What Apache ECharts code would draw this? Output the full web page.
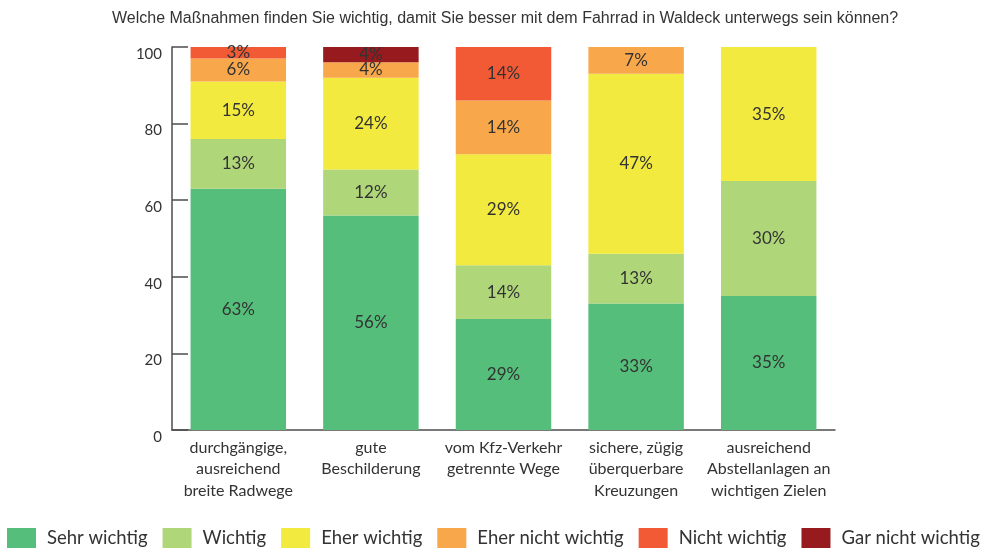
<!DOCTYPE html>
<html>
<head>
<meta charset="utf-8">
<script src="https://cdn.jsdelivr.net/npm/echarts@6/dist/echarts.min.js"></script>
<style>
  html, body { margin: 0; padding: 0; background: #fff; }
  #chart { width: 981px; height: 548px; }
</style>
</head>
<body>
<div id="chart"></div>
<script>
  const categories = [
    'durchgängige,\nausreichend\nbreite Radwege',
    'gute\nBeschilderung',
    'vom Kfz-Verkehr\ngetrennte Wege',
    'sichere, zügig\nüberquerbare\nKreuzungen',
    'ausreichend\nAbstellanlagen an\nwichtigen Zielen',
  ];
  const seriesNames = ['Sehr wichtig', 'Wichtig', 'Eher wichtig', 'Eher nicht wichtig', 'Nicht wichtig', 'Gar nicht wichtig'];
  const sehrWichtig = [63, 56, 29, 33, 35];
  const wichtig = [13, 12, 14, 13, 30];
  const eherWichtig = [15, 24, 29, 47, 35];
  const eherNichtWichtig = [6, 4, 14, 7, 0];
  const nichtWichtig = [3, 0, 14, 0, 0];
  const garNichtWichtig = [0, 4, 0, 0, 0];
  const colors = ['#55BE7A', '#B0D67A', '#F2EA3F', '#F8A74B', '#F15A35', '#961A1E'];

  const FONT = "Lato, 'Open Sans', sans-serif";
  const values = [sehrWichtig, wichtig, eherWichtig, eherNichtWichtig, nichtWichtig, garNichtWichtig];

  const chart = echarts.init(document.getElementById('chart'), null, { renderer: 'canvas' });
  chart.setOption({
    animation: false,
    textStyle: { fontFamily: FONT },
    title: {
      text: 'Welche Maßnahmen finden Sie wichtig, damit Sie besser mit dem Fahrrad in Waldeck unterwegs sein können?',
      left: 112,
      top: 11,
      padding: 0,
      textStyle: { fontFamily: "'Liberation Sans', Arial, sans-serif", fontSize: 16, fontWeight: 'normal', color: '#333' },
    },
    legend: {
      left: 7,
      top: 528,
      padding: 0,
      itemWidth: 29,
      itemHeight: 20,
      itemGap: 15,
      icon: 'rect',
      textStyle: { fontFamily: FONT, fontSize: 18.5, color: '#333', padding: [0, 0, 0, 6] },
      data: seriesNames,
    },
    grid: { left: 172, right: 146, top: 47, bottom: 118 },
    xAxis: {
      type: 'category',
      data: categories,
      axisLine: { lineStyle: { color: '#4d4d4d', width: 1.5 } },
      axisTick: { inside: true, length: 10, lineStyle: { color: '#4d4d4d', width: 1.5 } },
      axisLabel: { interval: 0, margin: 7, fontSize: 16, lineHeight: 21.5, color: '#333' },
    },
    yAxis: {
      type: 'value',
      min: 0,
      max: 100,
      interval: 20,
      splitLine: { show: false },
      axisLine: { show: true, lineStyle: { color: '#4d4d4d', width: 1.5 } },
      axisTick: { show: true, inside: true, length: 16, lineStyle: { color: '#4d4d4d', width: 1.5 } },
      axisLabel: { fontSize: 15, color: '#333', margin: 10, verticalAlign: 'top', lineHeight: 14 },
    },
    series: seriesNames.map((name, i) => ({
      name,
      type: 'bar',
      stack: 'total',
      barCategoryGap: '28%',
      data: values[i],
      itemStyle: { color: colors[i] },
      label: {
        show: true,
        position: 'inside',
        fontSize: 17,
        color: '#333',
        formatter: (p) => (p.value ? p.value + '%' : ''),
      },
    })),
  });
</script>
</body>
</html>
